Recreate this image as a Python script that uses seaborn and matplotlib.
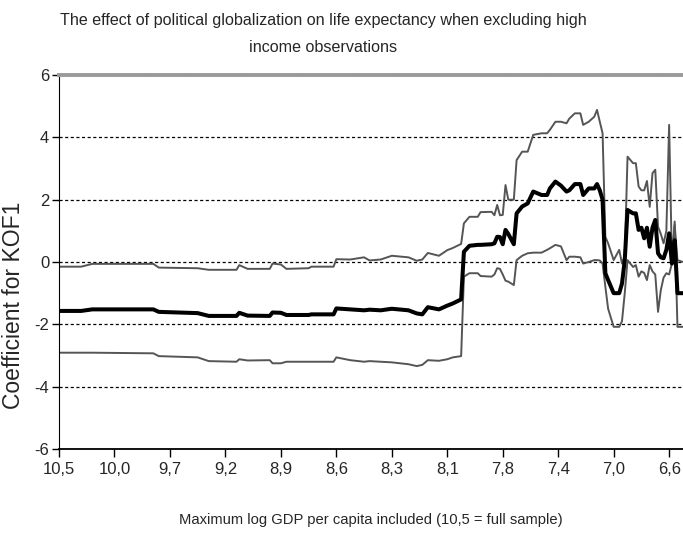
import numpy as np
import pandas as pd
import matplotlib
matplotlib.use("Agg")
import matplotlib.pyplot as plt
import seaborn as sns

obs = [0, 8, 12, 34, 36, 50, 54, 64, 65, 68, 76, 77, 80, 82, 90, 91, 99,
       100, 105, 110, 112, 116, 120, 126, 129, 131, 133, 137, 140, 142, 145,
       146, 148, 151, 152, 156, 157, 158, 159, 160, 161, 162, 164, 165, 167,
       169, 171, 174, 176, 177, 179, 181, 183, 184, 186, 188, 189, 191, 193,
       194, 195, 196, 197, 198, 200, 202, 203, 204, 205, 207, 208, 209, 210,
       211, 212, 213, 214, 215, 216, 217, 218, 219, 220, 221, 222, 223, 225]

upper = [-0.15, -0.15, -0.06, -0.06, -0.18, -0.2, -0.25, -0.25, -0.1, -0.22,
         -0.22, -0.05, -0.08, -0.22, -0.2, -0.15, -0.15,
         0.09, 0.08, 0.15, 0.05, 0.08, 0.2, 0.15, 0.04, 0.08, 0.29, 0.2, 0.38,
         0.45, 0.58,
         1.24, 1.45, 1.45, 1.6, 1.61, 1.5, 1.83, 1.5, 1.51, 2.47, 2.0, 2.0,
         3.27, 3.54, 3.54, 4.08, 4.13, 4.13, 4.24, 4.5, 4.5, 4.45, 4.6, 4.77,
         4.77, 4.4, 4.5, 4.66, 4.88, 4.5, 4.13, 0.81, 0.6, 0.06, 0.39, -0.05,
         0.2, 3.38, 3.17, 3.17, 2.42, 2.3, 2.3, 2.6, 1.77, 2.85, 2.96, 1.13,
         0.9, 0.6, 1.0, 4.4, 0.06, 1.19, 0.06, 0.0]

coef = [-1.57, -1.57, -1.52, -1.52, -1.6, -1.64, -1.73, -1.73, -1.63, -1.72,
        -1.73, -1.62, -1.63, -1.7, -1.7, -1.68, -1.68,
        -1.49, -1.52, -1.55, -1.53, -1.55, -1.5, -1.55, -1.65, -1.68, -1.45,
        -1.52, -1.4, -1.33, -1.2,
        0.33, 0.52, 0.55, 0.55, 0.57, 0.6, 0.81, 0.8, 0.57, 1.03, 0.9, 0.57,
        1.56, 1.78, 1.88, 2.26, 2.15, 2.15, 2.36, 2.58, 2.45, 2.26, 2.3, 2.5,
        2.5, 2.15, 2.36, 2.36, 2.5, 2.3, 2.0, -0.36, -0.58, -1.0, -1.0, -0.69,
        0.06, 1.67, 1.56, 1.56, 1.03, 1.1, 0.76, 1.1, 0.49, 1.1, 1.35, 0.28,
        0.15, 0.12, 0.39, 0.92, -0.05, 0.7, -1.0, -1.0]

lower = [-2.91, -2.91, -2.91, -2.93, -3.02, -3.06, -3.18, -3.2, -3.12, -3.16,
         -3.15, -3.25, -3.25, -3.2, -3.2, -3.2, -3.2,
         -3.06, -3.15, -3.2, -3.18, -3.2, -3.22, -3.28, -3.34, -3.3, -3.15,
         -3.17, -3.12, -3.06, -3.02,
         -0.47, -0.36, -0.36, -0.45, -0.47, -0.4, -0.2, -0.22, -0.4, -0.6,
         -0.63, -0.74, 0.06, 0.2, 0.28, 0.3, 0.3, 0.39, 0.44, 0.55, 0.5, 0.06,
         0.17, 0.17, 0.15, -0.05, 0.0, 0.06, 0.06, 0.05, -0.05, -0.79, -1.5,
         -2.08, -2.08, -1.9, -1.0, 0.06, -0.16, -0.1, -0.47, -0.3, -0.35,
         -0.58, -0.1, -0.3, -0.4, -1.6, -0.9, -0.5, -0.36, -0.4, -0.05, 1.3,
         -2.08, -2.08]

tick_obs = [0, 20, 40, 60, 80, 100, 120, 140, 160, 180, 200, 220]
tick_labels = ["10,5", "10,0", "9,7", "9,2", "8,9", "8,6", "8,3", "8,1",
               "7,8", "7,4", "7,0", "6,6"]
y_ticks = [-6, -4, -2, 0, 2, 4, 6]

sns.set_style("ticks")
plt.rcParams['font.family'] = ['Liberation Sans', 'DejaVu Sans']

df = pd.DataFrame({'obs': obs, 'upper': upper, 'coef': coef, 'lower': lower})

fig = plt.figure(figsize=(6.83, 5.33), dpi=100)
ax = fig.add_axes([59 / 683, 1 - 449 / 533, 624 / 683, 374 / 533])

sns.lineplot(data=df, x='obs', y='upper', color='#555555', lw=1.4,
             estimator=None, sort=False, ax=ax)
sns.lineplot(data=df, x='obs', y='lower', color='#555555', lw=1.4,
             estimator=None, sort=False, ax=ax)
sns.lineplot(data=df, x='obs', y='coef', color='black', lw=2.9,
             estimator=None, sort=False, ax=ax)

ax.set_xlim(0, 225)
ax.set_ylim(-6, 6)
ax.set_xticks(tick_obs)
ax.set_xticklabels(tick_labels)
ax.set_yticks(y_ticks)
ax.set_yticklabels([str(v) for v in y_ticks])
ax.tick_params(axis='both', labelsize=12, length=6, width=1, color='black',
               direction='out')
ax.tick_params(axis='x', pad=3)
ax.tick_params(axis='y', pad=2, length=5)

ax.set_axisbelow(True)
ax.grid(axis='y', color='black', linestyle=(0, (2.5, 2)), lw=0.9)
ax.grid(axis='x', visible=False)

ax.spines['right'].set_visible(False)
ax.spines['top'].set_color('#9a9a9a')
ax.spines['top'].set_linewidth(2.8)
ax.spines['left'].set_color('black')
ax.spines['bottom'].set_color('black')
ax.spines['bottom'].set_linewidth(1.3)

ax.set_xlabel('Maximum log GDP per capita included (10,5 = full sample)',
              fontsize=10.6)
ax.xaxis.set_label_coords(0.5, -(520 - 449) / 374)
ax.xaxis.label.set_va('center')

ax.set_ylabel('Coefficient for KOF1', fontsize=16.5)
ax.yaxis.set_label_coords((14 - 59) / 624, (449 - 305) / 374)
ax.yaxis.label.set_va('center')

fig.text(323 / 683, 1 - 34 / 533,
         'The effect of political globalization on life expectancy when excluding high\nincome observations',
         ha='center', va='center', fontsize=11.6, linespacing=2.0)

fig.savefig('out.png', dpi=100)
